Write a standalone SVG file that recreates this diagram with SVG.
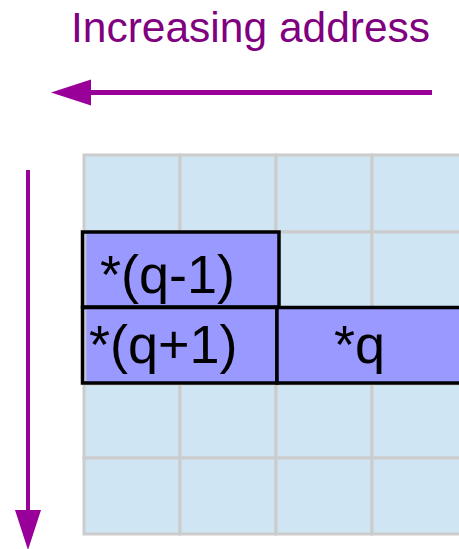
<svg xmlns="http://www.w3.org/2000/svg" width="459" height="549" viewBox="0 0 459 549">
  <defs>
    <style>
      .cell { fill: #cfe5f3; stroke: #cccccc; stroke-width: 3; }
      .node rect { fill: #9999ff; stroke: #000000; stroke-width: 3.5; }
      .lbl { font-family: "Liberation Sans", Arial, sans-serif; font-size: 54px; fill: #000000; }
      .title { font-family: "Liberation Sans", Arial, sans-serif; font-size: 42.5px; fill: #800080; }
      .arrow { stroke: #990099; fill: none; stroke-linecap: butt; }
    </style>
    <marker id="head" markerUnits="userSpaceOnUse" markerWidth="42" markerHeight="28" viewBox="0 -14 42 28" refX="0" refY="0" orient="auto">
      <path d="M0,-13 L40,0 L0,13 Z" fill="#990099"/>
    </marker>
  </defs>
  <rect width="459" height="549" fill="#ffffff"/>
  <text class="title" x="71" y="42">Increasing address</text>
  <g id="grid">
    <rect class="cell" x="84" y="155" width="96" height="77"/>
    <rect class="cell" x="180" y="155" width="96" height="77"/>
    <rect class="cell" x="276" y="155" width="96" height="77"/>
    <rect class="cell" x="372" y="155" width="96" height="77"/>
    <rect class="cell" x="84" y="232" width="96" height="76"/>
    <rect class="cell" x="180" y="232" width="96" height="76"/>
    <rect class="cell" x="276" y="232" width="96" height="76"/>
    <rect class="cell" x="372" y="232" width="96" height="76"/>
    <rect class="cell" x="84" y="308" width="96" height="76"/>
    <rect class="cell" x="180" y="308" width="96" height="76"/>
    <rect class="cell" x="276" y="308" width="96" height="76"/>
    <rect class="cell" x="372" y="308" width="96" height="76"/>
    <rect class="cell" x="84" y="384" width="96" height="74"/>
    <rect class="cell" x="180" y="384" width="96" height="74"/>
    <rect class="cell" x="276" y="384" width="96" height="74"/>
    <rect class="cell" x="372" y="384" width="96" height="74"/>
    <rect class="cell" x="84" y="458" width="96" height="76"/>
    <rect class="cell" x="180" y="458" width="96" height="76"/>
    <rect class="cell" x="276" y="458" width="96" height="76"/>
    <rect class="cell" x="372" y="458" width="96" height="76"/>
  </g>
  <g id="q_minus_1" class="node">
    <rect x="82.5" y="232" width="196.5" height="75"/>
    <line x1="85.5" y1="234" x2="85.5" y2="305" stroke="#c4c4c4" stroke-width="2"/>
    <text class="lbl" x="100" y="293">*(q-1)</text>
  </g>
  <g id="q_plus_1" class="node">
    <rect x="82.5" y="307.5" width="194.5" height="75.5"/>
    <line x1="85.5" y1="310" x2="85.5" y2="381" stroke="#c4c4c4" stroke-width="2"/>
    <text class="lbl" x="89" y="363">*(q+1)</text>
  </g>
  <g id="q" class="node">
    <rect x="277" y="307.5" width="195" height="75.5"/>
    <text class="lbl" x="334" y="363">*q</text>
  </g>
  <g id="connectors">
    <line class="arrow" x1="432" y1="92.5" x2="91" y2="92.5" stroke-width="5" marker-end="url(#head)"/>
    <line class="arrow" x1="28" y1="170" x2="28" y2="510" stroke-width="4" marker-end="url(#head)"/>
  </g>
</svg>
